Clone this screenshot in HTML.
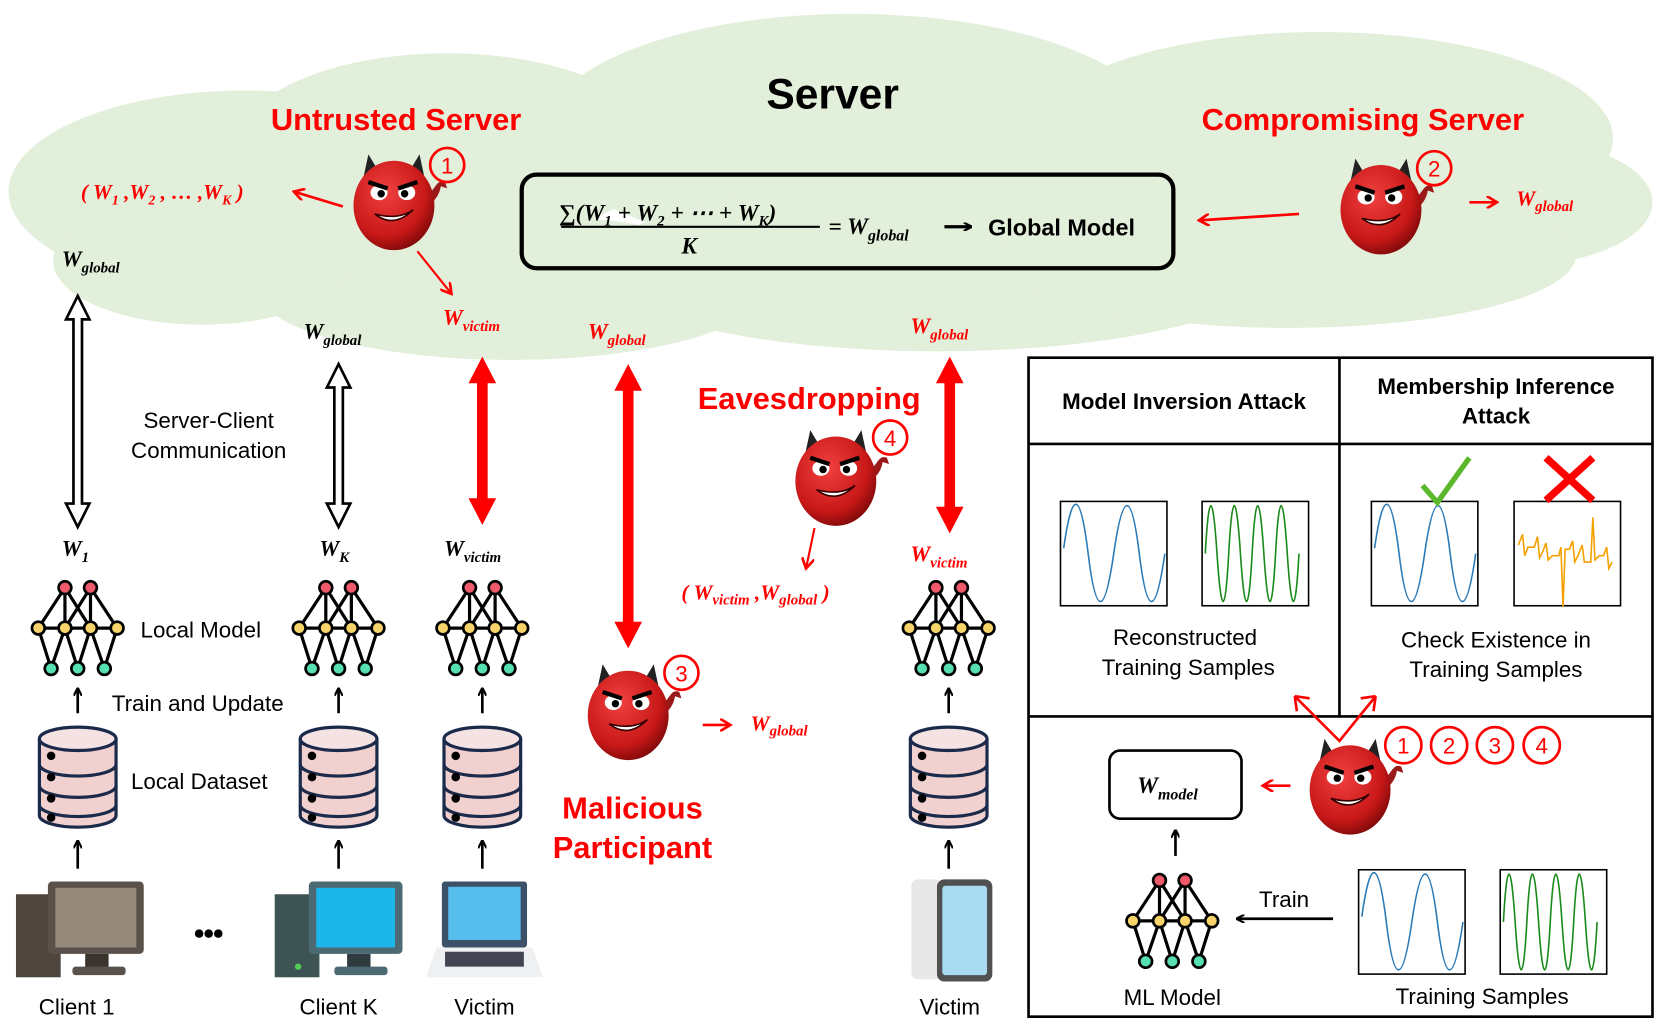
<!DOCTYPE html>
<html><head><meta charset="utf-8"><style>
html,body{margin:0;padding:0;background:#fff}
svg{display:block}
.s{font-family:"Liberation Sans",sans-serif}
.m{font-family:"Liberation Serif",serif;font-style:italic;font-weight:bold}
</style></head><body>
<svg width="1661" height="1022" viewBox="0 0 1560 960" preserveAspectRatio="none" xmlns="http://www.w3.org/2000/svg">
<defs>
<radialGradient id="rg" cx="0.4" cy="0.35" r="0.7"><stop offset="0" stop-color="#f04040"/><stop offset="0.7" stop-color="#c81818"/><stop offset="1" stop-color="#7a0808"/></radialGradient>
<g id="dev">
<path d="M24,-8 C40,-10 38,-26 48,-22 L50,-16 L44,-18 C42,-6 34,0 26,2 Z" fill="#9a1a1a"/>
<path d="M-30,-20 L-24,-48 L-12,-28 Z" fill="#222"/>
<path d="M30,-20 L24,-48 L12,-28 Z" fill="#222"/>
<ellipse cx="0" cy="0" rx="38" ry="42" fill="url(#rg)"/>
<ellipse cx="-14" cy="-12" rx="8" ry="7" fill="#fff"/><ellipse cx="12" cy="-12" rx="8" ry="7" fill="#fff"/>
<circle cx="-12" cy="-11" r="3.5" fill="#000"/><circle cx="10" cy="-11" r="3.5" fill="#000"/>
<path d="M-24,-22 L-6,-16 M22,-22 L4,-16" stroke="#000" stroke-width="4"/>
<path d="M-18,8 Q0,22 18,4 Q4,14 -18,8 Z" fill="#fff" stroke="#300" stroke-width="1.5"/>
</g>
<g id="net" stroke="#000" stroke-width="3" fill="none">
<path d="M-12,-38 L-37,0 M-12,-38 L-12,0 M-12,-38 L12,0 M12,-38 L-12,0 M12,-38 L12,0 M12,-38 L37,0 M-37,0 L37,0 M-37,0 L-25,38 M-12,0 L-25,38 M-12,0 L0,38 M12,0 L0,38 M12,0 L25,38 M37,0 L25,38"/>
<g stroke-width="2.5"><circle cx="-12" cy="-38" r="6" fill="#ef5a6a"/><circle cx="12" cy="-38" r="6" fill="#ef5a6a"/>
<circle cx="-37" cy="0" r="6" fill="#f6d46a"/><circle cx="-12" cy="0" r="6" fill="#f6d46a"/><circle cx="12" cy="0" r="6" fill="#f6d46a"/><circle cx="37" cy="0" r="6" fill="#f6d46a"/>
<circle cx="-25" cy="38" r="6" fill="#56e0b0"/><circle cx="0" cy="38" r="6" fill="#56e0b0"/><circle cx="25" cy="38" r="6" fill="#56e0b0"/></g>
</g>
<g id="db" stroke="#1b2a4a" stroke-width="3">
<path d="M-36,-36 L-36,36 A36,11 0 0 0 36,36 L36,-36" fill="#f1d0d0"/>
<ellipse cx="0" cy="-36" rx="36" ry="11" fill="#f5e3e3"/>
<path d="M-36,-12 A36,11 0 0 0 36,-12 M-36,8 A36,11 0 0 0 36,8 M-36,26 A36,11 0 0 0 36,26" fill="none"/>
<g fill="#000" stroke="none"><circle cx="-25" cy="-20" r="4"/><circle cx="-25" cy="0" r="4"/><circle cx="-25" cy="20" r="4"/><circle cx="-25" cy="38" r="4"/></g>
</g>
<marker id="ah" markerWidth="8" markerHeight="8" refX="7" refY="4" orient="auto" markerUnits="userSpaceOnUse"><path d="M0,0 L8,4 L0,8" fill="none" stroke="#000" stroke-width="2"/></marker>
<marker id="rh" markerWidth="12" markerHeight="12" refX="10" refY="6" orient="auto" markerUnits="userSpaceOnUse"><path d="M0,0 L10,6 L0,12" fill="none" stroke="#f00" stroke-width="2.5"/></marker>
</defs>

<!-- cloud -->
<g fill="#e2efda">
<ellipse cx="230" cy="180" rx="222" ry="95"/><ellipse cx="420" cy="140" rx="200" ry="90"/>
<ellipse cx="800" cy="125" rx="290" ry="112"/><ellipse cx="1240" cy="130" rx="275" ry="100"/>
<ellipse cx="1420" cy="190" rx="132" ry="60"/><ellipse cx="480" cy="270" rx="240" ry="68"/>
<ellipse cx="880" cy="250" rx="320" ry="80"/><ellipse cx="1210" cy="240" rx="270" ry="68"/>
<ellipse cx="190" cy="245" rx="140" ry="60"/>
</g>

<text x="782" y="102" class="s" font-size="40" font-weight="bold" text-anchor="middle">Server</text>
<text x="372" y="122" class="s" font-size="29" font-weight="bold" fill="#f00" text-anchor="middle">Untrusted Server</text>
<text x="1280" y="122" class="s" font-size="29" font-weight="bold" fill="#f00" text-anchor="middle">Compromising Server</text>

<rect x="490" y="164" width="612" height="88" rx="14" fill="none" stroke="#000" stroke-width="4"/>
<text x="525" y="207" class="m" font-size="22">∑(W<tspan font-size="14" dy="5">1</tspan><tspan dy="-5"> + W</tspan><tspan font-size="14" dy="5">2</tspan><tspan dy="-5"> + ⋯ + W</tspan><tspan font-size="14" dy="5">K</tspan><tspan dy="-5">)</tspan></text>
<line x1="527" y1="213" x2="770" y2="213" stroke="#000" stroke-width="2"/>
<text x="640" y="238" class="m" font-size="22">K</text>
<text x="778" y="220" class="m" font-size="22">= W<tspan font-size="15" dy="6">global</tspan></text>
<line x1="887" y1="213" x2="912" y2="213" stroke="#000" stroke-width="3" marker-end="url(#ah)"/>
<text x="928" y="221" class="s" font-size="22" font-weight="bold">Global Model</text>

<use href="#dev" x="370" y="193"/>
<circle cx="420" cy="155" r="16" fill="none" stroke="#f00" stroke-width="2.5"/><text x="420" y="163" class="s" font-size="21" fill="#f00" text-anchor="middle">1</text>
<text x="76" y="187" class="m" font-size="20" fill="#f00">( W<tspan font-size="13" dy="5">1</tspan><tspan dy="-5"> ,W</tspan><tspan font-size="13" dy="5">2</tspan><tspan dy="-5"> , … ,W</tspan><tspan font-size="13" dy="5">K</tspan><tspan dy="-5"> )</tspan></text>
<line x1="322" y1="194" x2="276" y2="180" stroke="#f00" stroke-width="2.5" marker-end="url(#rh)"/>
<line x1="392" y1="236" x2="424" y2="276" stroke="#f00" stroke-width="2" marker-end="url(#rh)"/>

<use href="#dev" x="1297" y="197"/>
<circle cx="1347" cy="158" r="16" fill="none" stroke="#f00" stroke-width="2.5"/><text x="1347" y="166" class="s" font-size="21" fill="#f00" text-anchor="middle">2</text>
<line x1="1380" y1="190" x2="1406" y2="190" stroke="#f00" stroke-width="2.5" marker-end="url(#rh)"/>
<text x="1424" y="193" class="m" font-size="20" fill="#f00">W<tspan font-size="14" dy="5">global</tspan></text>
<line x1="1220" y1="201" x2="1126" y2="207" stroke="#f00" stroke-width="2.5" marker-end="url(#rh)"/>

<!-- cloud labels -->
<text x="58" y="250" class="m" font-size="21">W<tspan font-size="14" dy="6">global</tspan></text>
<text x="285" y="318" class="m" font-size="21">W<tspan font-size="14" dy="6">global</tspan></text>
<text x="416" y="305" class="m" font-size="21" fill="#f00">W<tspan font-size="14" dy="6">victim</tspan></text>
<text x="552" y="318" class="m" font-size="21" fill="#f00">W<tspan font-size="14" dy="6">global</tspan></text>
<text x="855" y="313" class="m" font-size="21" fill="#f00">W<tspan font-size="14" dy="6">global</tspan></text>

<!-- hollow double arrows -->
<path d="M73,278 L84,300 L77,300 L77,473 L84,473 L73,495 L62,473 L69,473 L69,300 L62,300 Z" fill="#fff" stroke="#000" stroke-width="2.5"/>
<path d="M318,342 L329,364 L322,364 L322,473 L329,473 L318,495 L307,473 L314,473 L314,364 L307,364 Z" fill="#fff" stroke="#000" stroke-width="2.5"/>
<text x="196" y="402" class="s" font-size="21" text-anchor="middle">Server-Client</text>
<text x="196" y="430" class="s" font-size="21" text-anchor="middle">Communication</text>

<!-- red thick arrows -->
<g fill="#f00">
<path d="M453,335 L466,360 L458,360 L458,468 L466,468 L453,493 L440,468 L448,468 L448,360 L440,360 Z"/>
<path d="M590,342 L603,367 L595,367 L595,584 L603,584 L590,609 L577,584 L585,584 L585,367 L577,367 Z"/>
<path d="M892,335 L905,360 L897,360 L897,476 L905,476 L892,501 L879,476 L887,476 L887,360 L879,360 Z"/>
</g>

<text x="760" y="384" class="s" font-size="29" font-weight="bold" fill="#f00" text-anchor="middle">Eavesdropping</text>
<use href="#dev" x="785" y="452"/>
<circle cx="836" cy="411" r="16" fill="none" stroke="#f00" stroke-width="2.5"/><text x="836" y="419" class="s" font-size="21" fill="#f00" text-anchor="middle">4</text>
<line x1="765" y1="496" x2="757" y2="534" stroke="#f00" stroke-width="2" marker-end="url(#rh)"/>
<text x="640" y="563" class="m" font-size="20" fill="#f00">( W<tspan font-size="14" dy="5">victim</tspan><tspan dy="-5"> ,W</tspan><tspan font-size="14" dy="5">global</tspan><tspan dy="-5"> )</tspan></text>

<use href="#dev" x="590" y="672"/>
<circle cx="640" cy="632" r="16" fill="none" stroke="#f00" stroke-width="2.5"/><text x="640" y="640" class="s" font-size="21" fill="#f00" text-anchor="middle">3</text>
<line x1="660" y1="681" x2="686" y2="681" stroke="#f00" stroke-width="2.5" marker-end="url(#rh)"/>
<text x="705" y="686" class="m" font-size="20" fill="#f00">W<tspan font-size="14" dy="5">global</tspan></text>
<text x="594" y="769" class="s" font-size="29" font-weight="bold" fill="#f00" text-anchor="middle">Malicious</text>
<text x="594" y="806" class="s" font-size="29" font-weight="bold" fill="#f00" text-anchor="middle">Participant</text>

<!-- client columns -->
<text x="58" y="522" class="m" font-size="21">W<tspan font-size="14" dy="6">1</tspan></text>
<text x="300" y="522" class="m" font-size="21">W<tspan font-size="14" dy="6">K</tspan></text>
<text x="417" y="522" class="m" font-size="21">W<tspan font-size="14" dy="6">victim</tspan></text>
<text x="855" y="527" class="m" font-size="21" fill="#f00">W<tspan font-size="14" dy="6">victim</tspan></text>

<use href="#net" x="73" y="590"/><use href="#net" x="318" y="590"/><use href="#net" x="453" y="590"/><use href="#net" x="891" y="590"/>
<text x="132" y="599" class="s" font-size="21">Local Model</text>
<text x="105" y="668" class="s" font-size="21">Train and Update</text>
<g stroke="#000" stroke-width="2.5" marker-end="url(#ah)">
<line x1="73" y1="670" x2="73" y2="647"/><line x1="318" y1="670" x2="318" y2="647"/><line x1="453" y1="670" x2="453" y2="647"/><line x1="891" y1="670" x2="891" y2="647"/>
<line x1="73" y1="816" x2="73" y2="790"/><line x1="318" y1="816" x2="318" y2="790"/><line x1="453" y1="816" x2="453" y2="790"/><line x1="891" y1="816" x2="891" y2="790"/>
</g>
<use href="#db" x="73" y="730"/><use href="#db" x="318" y="730"/><use href="#db" x="453" y="730"/><use href="#db" x="891" y="730"/>
<text x="123" y="741" class="s" font-size="21">Local Dataset</text>

<!-- computers -->
<rect x="15" y="840" width="42" height="78" fill="#4e463e"/>
<rect x="45" y="828" width="90" height="68" rx="4" fill="#5a524a"/><rect x="52" y="834" width="76" height="56" fill="#968a7c"/>
<rect x="80" y="896" width="22" height="14" fill="#3a342e"/><rect x="68" y="908" width="50" height="8" rx="3" fill="#5a524a"/>
<circle cx="187" cy="877" r="4" fill="#000"/><circle cx="196" cy="877" r="4" fill="#000"/><circle cx="205" cy="877" r="4" fill="#000"/>
<rect x="258" y="840" width="42" height="78" fill="#3e5454"/>
<rect x="290" y="828" width="88" height="68" rx="4" fill="#4c6a72"/><rect x="297" y="834" width="74" height="56" fill="#1cb6ea"/>
<rect x="326" y="896" width="22" height="14" fill="#2e3c40"/><rect x="314" y="908" width="50" height="8" rx="3" fill="#4c6a72"/>
<circle cx="280" cy="908" r="3" fill="#5c5"/>
<rect x="415" y="828" width="80" height="62" rx="3" fill="#3c5068"/><rect x="421" y="833" width="68" height="50" fill="#56bdec"/>
<path d="M410,890 L500,890 L510,918 L400,918 Z" fill="#eef0f2"/><rect x="418" y="894" width="74" height="14" fill="#445"/>
<rect x="856" y="826" width="28" height="94" rx="6" fill="#e8e8e8"/>
<rect x="880" y="826" width="52" height="96" rx="7" fill="#505050"/><rect x="885" y="832" width="42" height="84" rx="3" fill="#a8daf2"/>
<text x="72" y="953" class="s" font-size="21" text-anchor="middle">Client 1</text>
<text x="318" y="953" class="s" font-size="21" text-anchor="middle">Client K</text>
<text x="455" y="953" class="s" font-size="21" text-anchor="middle">Victim</text>
<text x="892" y="953" class="s" font-size="21" text-anchor="middle">Victim</text>

<!-- right panel -->
<g stroke="#000" stroke-width="2.5" fill="none">
<rect x="966" y="336" width="586" height="619"/>
<line x1="966" y1="417" x2="1552" y2="417"/><line x1="966" y1="673" x2="1552" y2="673"/><line x1="1258" y1="336" x2="1258" y2="673"/>
</g>
<text x="1112" y="384" class="s" font-size="21" font-weight="bold" text-anchor="middle">Model Inversion Attack</text>
<text x="1405" y="370" class="s" font-size="21" font-weight="bold" text-anchor="middle">Membership Inference</text>
<text x="1405" y="398" class="s" font-size="21" font-weight="bold" text-anchor="middle">Attack</text>
<g stroke="#000" stroke-width="1.5" fill="#fff">
<rect x="996" y="471" width="100" height="98"/><rect x="1129" y="471" width="100" height="98"/>
<rect x="1288" y="471" width="100" height="98"/><rect x="1422" y="471" width="100" height="98"/>
<rect x="1276" y="817" width="100" height="98"/><rect x="1409" y="817" width="100" height="98"/>
</g>
<g fill="none" stroke-width="1.5">
<path d="M999,515 Q1011,430 1022,520 T1046,520 T1070,520 T1094,520" stroke="#2a7ab8" transform="translate(0,0)"/>
<path d="M1132,520 q5,-90 11,0 t11,0 t11,0 t11,0 t11,0 t11,0 t11,0 t11,0" stroke="#1a8a1a"/>
<path d="M1291,515 Q1303,430 1314,520 T1338,520 T1362,520 T1386,520" stroke="#2a7ab8"/>
<path d="M1426,512 l4,-10 l2,20 l3,-8 h6 l3,-10 l2,20 l3,-6 l3,-8 l2,16 l4,-4 h6 l2,-8 l2,56 l2,-54 l4,0 l3,-8 l2,20 l3,-6 l4,-10 l2,16 h6 l2,-42 l2,40 l4,-4 h4 l3,-8 l2,20 l3,-6" stroke="#f5a000"/>
<path d="M1279,861 Q1291,776 1302,866 T1326,866 T1350,866 T1374,866" stroke="#2a7ab8"/>
<path d="M1412,866 q5,-90 11,0 t11,0 t11,0 t11,0 t11,0 t11,0 t11,0 t11,0" stroke="#1a8a1a"/>
</g>
<path d="M1336,456 l14,16 l30,-42" fill="none" stroke="#5ab82a" stroke-width="5"/>
<path d="M1452,430 l44,40 M1496,430 l-44,40" stroke="#f00" stroke-width="7"/>
<text x="1113" y="606" class="s" font-size="21" text-anchor="middle">Reconstructed</text>
<text x="1116" y="634" class="s" font-size="21" text-anchor="middle">Training Samples</text>
<text x="1405" y="608" class="s" font-size="21" text-anchor="middle">Check Existence in</text>
<text x="1405" y="636" class="s" font-size="21" text-anchor="middle">Training Samples</text>

<use href="#dev" x="1268" y="742"/>
<path d="M1216,654 L1258,696 L1292,654" fill="none" stroke="#f00" stroke-width="2.5"/>
<path d="M1216,654 l2,14 M1216,654 l14,2 M1292,654 l-14,2 M1292,654 l-2,14" stroke="#f00" stroke-width="2.5"/>
<g fill="none" stroke="#f00" stroke-width="2.5"><circle cx="1318" cy="700" r="17"/><circle cx="1361" cy="700" r="17"/><circle cx="1404" cy="700" r="17"/><circle cx="1448" cy="700" r="17"/></g>
<g class="s" font-size="21" fill="#f00" text-anchor="middle"><text x="1318" y="708">1</text><text x="1361" y="708">2</text><text x="1404" y="708">3</text><text x="1448" y="708">4</text></g>
<line x1="1212" y1="738" x2="1186" y2="738" stroke="#f00" stroke-width="2.5" marker-end="url(#rh)"/>
<rect x="1042" y="705" width="124" height="64" rx="10" fill="none" stroke="#000" stroke-width="2.5"/>
<text x="1068" y="745" class="m" font-size="22">W<tspan font-size="15" dy="6">model</tspan></text>
<line x1="1104" y1="804" x2="1104" y2="780" stroke="#000" stroke-width="2.5" marker-end="url(#ah)"/>
<use href="#net" x="1101" y="865"/>
<line x1="1252" y1="863" x2="1162" y2="863" stroke="#000" stroke-width="2.5" marker-end="url(#ah)"/>
<text x="1206" y="852" class="s" font-size="21" text-anchor="middle">Train</text>
<text x="1101" y="944" class="s" font-size="21" text-anchor="middle">ML Model</text>
<text x="1392" y="943" class="s" font-size="21" text-anchor="middle">Training Samples</text>
</svg>
</body></html>
